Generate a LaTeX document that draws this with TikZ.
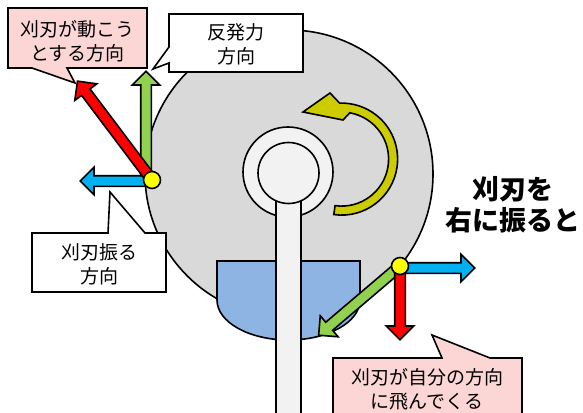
\documentclass[tikz,border=0pt]{standalone}
\usepackage{fontspec}
\setmainfont{Noto Sans CJK JP}
\usepackage{tikz}
\usetikzlibrary{shapes.arrows,calc}
\definecolor{bladegray}{HTML}{D9D9D9}
\definecolor{hubgray}{HTML}{F2F2F2}
\definecolor{guardblue}{HTML}{8EB4E3}
\definecolor{pinkfill}{RGB}{252,213,213}
\definecolor{arrred}{HTML}{FF0000}
\definecolor{arrgreen}{HTML}{92D050}
\definecolor{arrblue}{HTML}{00B0F0}
\definecolor{dotyellow}{HTML}{FFFF00}
\definecolor{curveyellow}{HTML}{CCCC00}
\tikzset{
  blackline/.style={draw=black,line width=1.6pt,line join=miter},
  blockarrow/.style={single arrow,blackline,fill=#1,inner sep=4.5pt,minimum width=0pt,
    single arrow head extend=8.5pt,single arrow tip angle=90,anchor=tail},
  dotmark/.style={circle,blackline,fill=dotyellow,minimum size=17pt,inner sep=0pt},
  calltext/.style={align=center,inner sep=0pt,font=\fontsize{19}{24}\selectfont},
}

\begin{document}
\begin{tikzpicture}[x=1pt,y=-1pt]
\useasboundingbox (0,0) rectangle (583,412);
\draw[blackline,fill=bladegray] (289,174) circle[radius=144];
\coordinate (c) at (341.6,159.1);
\draw[blackline,fill=curveyellow] ($(c)+(98:56)$) arc[start angle=98,end angle=-92,radius=56]
  -- (330,93) -- (303,112) -- (343,120) -- ($(c)+(-80:47)$)
  arc[start angle=-80,end angle=98,radius=47] -- cycle;
\draw[blackline,fill=guardblue] (217,261) -- (360,261) -- (360,300)
  arc[start angle=0,end angle=180,x radius=71.5,y radius=40] -- cycle;
\draw[blackline,fill=hubgray] (288,172) circle[radius=45];
\draw[blackline,fill=hubgray] (276,172) rectangle (301,425);
\draw[blackline,fill=hubgray] (288.5,173) circle[radius=30.5];

\coordinate (pL) at (152,180);
\coordinate (pR) at (400,266);
\node[blockarrow=arrgreen,rotate=90,minimum height=106pt] (greenL) at (146,178) {};
\node[blockarrow=arrblue,rotate=180,minimum height=71pt] (blueL) at (152,181) {};
\node[blockarrow=arrred,rotate=127,minimum height=123pt] (redL) at (pL) {};
\node[dotmark] (dotL) at (pL) {};
\node[blockarrow=arrgreen,rotate=220.4,minimum height=106pt] (greenR) at (pR) {};
\node[blockarrow=arrblue,rotate=0,minimum height=74pt] (blueR) at (400,268) {};
\node[blockarrow=arrred,rotate=-90,minimum height=73pt] (redR) at (pR) {};
\node[dotmark] (dotR) at (pR) {};

\draw[blackline,fill=pinkfill] (8,8) -- (147,8) -- (147,68) -- (67,68) -- (75,83)
  -- (32,68) -- (8,68) -- cycle;
\node[calltext] (txtMove) at (77.5,41) {刈刃が動こう\\とする方向};
\draw[blackline,fill=white] (169,14) -- (303,14) -- (303,72) -- (169,72) -- (169,63)
  -- (153,69) -- (169,47) -- cycle;
\node[calltext] (txtReact) at (236,44.5) {反発力\\方向};
\draw[blackline,fill=white] (32,233) -- (108,233) -- (110,192) -- (145,233) -- (166,233)
  -- (166,292) -- (32,292) -- cycle;
\node[calltext] (txtSwingDir) at (99,264) {刈刃振る\\方向};
\draw[blackline,fill=pinkfill] (333,358) -- (442,358) -- (432,335) -- (490,358) -- (522,358)
  -- (522,430) -- (333,430) -- cycle;
\node[calltext] (txtFly) at (427,389) {刈刃が自分の方向\\に飛んでくる};

\node[align=center,inner sep=0pt,font=\fontsize{27}{31}\selectfont\bfseries] (txtRight) at (513,204.5) {刈刃を\\右に振ると};
\end{tikzpicture}
\end{document}
